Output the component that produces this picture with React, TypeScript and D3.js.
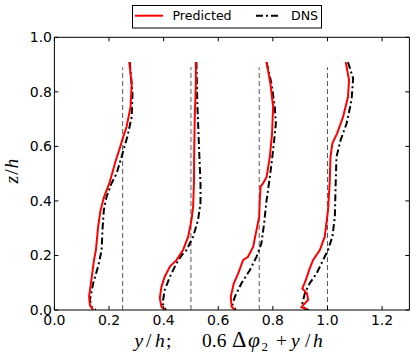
import React from "react";
import * as d3 from "d3";

// [x, z] pairs per profile
const predicted1 = [[0.274,0.909],[0.283,0.830],[0.279,0.745],[0.264,0.671],[0.252,0.635],[0.237,0.586],[0.225,0.549],[0.215,0.513],[0.201,0.464],[0.182,0.415],[0.169,0.366],[0.160,0.305],[0.152,0.220],[0.145,0.183],[0.137,0.122],[0.127,0.049],[0.130,0.018],[0.142,0.0]];
const dns1 = [[0.276,0.909],[0.286,0.794],[0.283,0.708],[0.267,0.635],[0.246,0.562],[0.228,0.501],[0.209,0.464],[0.191,0.415],[0.181,0.366],[0.176,0.293],[0.173,0.220],[0.160,0.159],[0.142,0.098],[0.130,0.037],[0.136,0.012],[0.152,0.0]];
const predicted2 = [[0.518,0.909],[0.518,0.830],[0.514,0.708],[0.512,0.586],[0.511,0.464],[0.508,0.378],[0.502,0.330],[0.490,0.269],[0.471,0.220],[0.447,0.183],[0.423,0.159],[0.404,0.122],[0.392,0.085],[0.386,0.043],[0.392,0.012],[0.404,0.0]];
const dns2 = [[0.520,0.909],[0.523,0.769],[0.530,0.586],[0.535,0.464],[0.535,0.391],[0.526,0.330],[0.508,0.269],[0.484,0.220],[0.466,0.201],[0.447,0.171],[0.423,0.122],[0.404,0.073],[0.396,0.024],[0.408,0.0]];
const predicted3 = [[0.777,0.909],[0.791,0.830],[0.801,0.745],[0.797,0.647],[0.789,0.562],[0.777,0.488],[0.764,0.464],[0.755,0.452],[0.752,0.403],[0.750,0.342],[0.740,0.293],[0.728,0.232],[0.709,0.195],[0.691,0.183],[0.673,0.134],[0.657,0.098],[0.646,0.049],[0.649,0.012],[0.661,0.0]];
const dns3 = [[0.777,0.909],[0.795,0.830],[0.807,0.745],[0.811,0.684],[0.801,0.586],[0.789,0.488],[0.777,0.403],[0.768,0.318],[0.758,0.244],[0.740,0.195],[0.716,0.147],[0.685,0.098],[0.661,0.049],[0.652,0.018],[0.664,0.0]];
const predicted4 = [[1.067,0.909],[1.079,0.842],[1.075,0.781],[1.057,0.708],[1.035,0.647],[1.018,0.611],[1.011,0.562],[1.008,0.464],[1.002,0.366],[0.990,0.269],[0.972,0.220],[0.947,0.183],[0.933,0.147],[0.921,0.110],[0.908,0.079],[0.925,0.061],[0.929,0.037],[0.911,0.018],[0.905,0.010],[0.925,0.003]];
const dns4 = [[1.075,0.909],[1.094,0.849],[1.088,0.769],[1.070,0.684],[1.048,0.623],[1.033,0.562],[1.030,0.464],[1.027,0.342],[1.018,0.269],[1.002,0.220],[0.978,0.171],[0.960,0.134],[0.935,0.098],[0.917,0.061],[0.908,0.024],[0.917,0.003],[0.935,0.0]];

const referenceX = [0.25, 0.5, 0.75, 1.0];
const referenceTop = 0.89;
const xTicks = [0, 0.2, 0.4, 0.6, 0.8, 1.0, 1.2];
const yTicks = [0, 0.2, 0.4, 0.6, 0.8, 1.0];
const legendLabels = ["Predicted", "DNS"];

const predictedSeries = [predicted1, predicted2, predicted3, predicted4];
const dnsSeries = [dns1, dns2, dns3, dns4];

export default function App() {
  const W = 416, H = 358;
  const L = 54.4, R = 409.4, T = 37.3, B = 310;
  const x = d3.scaleLinear().domain([0, 1.3]).range([L, R]);
  const y = d3.scaleLinear().domain([0, 1]).range([B, T]);
  const line = d3.line<number[]>().x(d => x(d[0])).y(d => y(d[1]));
  const tickFont = "DejaVu Sans";
  const mathFont = "Liberation Serif";
  const fs = 19.5;
  const bl = 347;

  return (
    <svg width={W} height={H} style={{ position: "absolute", left: 0, top: 0, background: "#fff" }}>
      <rect x={0} y={0} width={W} height={H} fill="#fff" />
      <defs>
        <clipPath id="clip">
          <rect x={L} y={T - 5} width={R - L} height={B - T + 5} />
        </clipPath>
      </defs>
      {/* reference dashed lines */}
      {referenceX.map((v, i) => (
        <line key={"r" + i} x1={x(v)} x2={x(v)} y1={y(0)} y2={y(referenceTop)}
          stroke="#555" strokeWidth={1} strokeDasharray="5,3" />
      ))}
      {/* curves */}
      <g clipPath="url(#clip)">
        {dnsSeries.map((s, i) => (
          <path key={"d" + i} d={line(s) || ""} fill="none" stroke="#000" strokeWidth={2}
            strokeDasharray="7,3,2,3" />
        ))}
        {predictedSeries.map((s, i) => (
          <path key={"p" + i} d={line(s) || ""} fill="none" stroke="#ff0000" strokeWidth={2} />
        ))}
      </g>
      {/* frame */}
      <line x1={L} x2={R} y1={T} y2={T} stroke="#000" strokeWidth={1} />
      <line x1={L} x2={R} y1={B} y2={B} stroke="#000" strokeWidth={1} />
      <line x1={L} x2={L} y1={T} y2={B} stroke="#000" strokeWidth={1} />
      <line x1={R} x2={R} y1={T} y2={B} stroke="#000" strokeWidth={1} />
      {/* x ticks */}
      {xTicks.map((t, i) => (
        <g key={"xt" + i}>
          <line x1={x(t)} x2={x(t)} y1={B} y2={B - 4} stroke="#000" strokeWidth={1} />
          <line x1={x(t)} x2={x(t)} y1={T} y2={T + 4} stroke="#000" strokeWidth={1} />
          <text x={x(t)} y={325} textAnchor="middle" fontFamily={tickFont} fontSize={14} fill="#000">
            {t.toFixed(1)}
          </text>
        </g>
      ))}
      {/* y ticks */}
      {yTicks.map((t, i) => (
        <g key={"yt" + i}>
          <line x1={L} x2={L + 4} y1={y(t)} y2={y(t)} stroke="#000" strokeWidth={1} />
          <line x1={R} x2={R - 4} y1={y(t)} y2={y(t)} stroke="#000" strokeWidth={1} />
          <text x={52} y={y(t) + 5} textAnchor="end" fontFamily={tickFont} fontSize={14} fill="#000">
            {t.toFixed(1)}
          </text>
        </g>
      ))}
      {/* y label */}
      <text transform="translate(18,171) rotate(-90)" textAnchor="middle" fontFamily={mathFont} fontSize={fs} fill="#000">
        <tspan fontStyle="italic">z</tspan><tspan dx={1}>/</tspan><tspan dx={1} fontStyle="italic">h</tspan>
      </text>
      {/* x label */}
      <g fontFamily={mathFont} fontSize={fs} fill="#000">
        <text x={134.5} y={bl} fontStyle="italic">y</text>
        <text x={146} y={bl}>/</text>
        <text x={155} y={bl} fontStyle="italic">h</text>
        <text x={166} y={bl}>;</text>
        <text x={202} y={bl}>0.6</text>
        <text x={232} y={bl} fontSize={fs * 1.15}>Δ</text>
        <text x={248} y={bl} fontStyle="italic" fontSize={fs * 1.1}>φ</text>
        <text x={261.5} y={bl + 4} fontSize={13}>2</text>
        <text x={276} y={bl}>+</text>
        <text x={291} y={bl} fontStyle="italic">y</text>
        <text x={305} y={bl}>/</text>
        <text x={313} y={bl} fontStyle="italic">h</text>
      </g>
      {/* legend */}
      <rect x={132.5} y={5.5} width={189} height={22.5} fill="#fff" stroke="#000" strokeWidth={1} />
      <line x1={135} x2={163} y1={15.7} y2={15.7} stroke="#ff0000" strokeWidth={2} />
      <text x={172.5} y={20.3} fontFamily={tickFont} fontSize={12.6} fill="#000">{legendLabels[0]}</text>
      <line x1={256} x2={281} y1={15.7} y2={15.7} stroke="#000" strokeWidth={2} strokeDasharray="7,3,2,3" />
      <text x={291} y={20.3} fontFamily={tickFont} fontSize={12.6} fill="#000">{legendLabels[1]}</text>
    </svg>
  );
}
